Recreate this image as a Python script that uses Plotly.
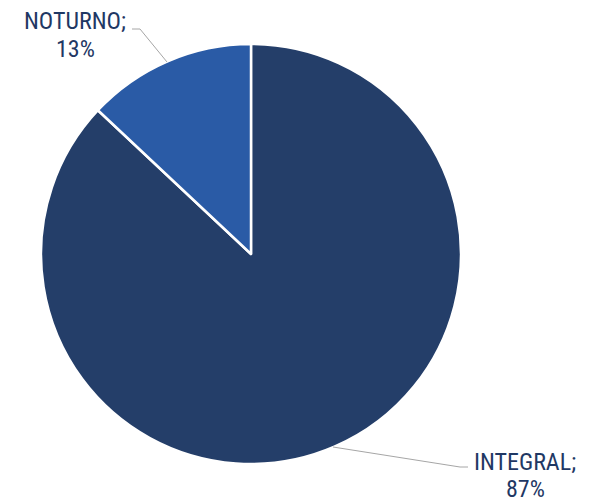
import plotly.graph_objects as go

labels = ["INTEGRAL", "NOTURNO"]
values = [87, 13]
colors = ["#243e69", "#2a5ba6"]

W, H = 603, 498
OFF = 8  # page body margin

def px(x):
    return (x - OFF) / W

def py(y):
    return 1 - (y - OFF) / H

fig = go.Figure(go.Pie(
    labels=labels, values=values, sort=False, direction="clockwise", rotation=0,
    marker=dict(colors=colors, line=dict(color="white", width=2.5)),
    textinfo="none", hoverinfo="label+percent",
    domain=dict(x=[px(41), px(461)], y=[py(464), py(44)]),
))

font = dict(family="Roboto Condensed, Liberation Sans Narrow, Roboto, sans-serif", size=24, color="#1f3864")
total = sum(values)
label_pos = {"NOTURNO": (75, 21, 49), "INTEGRAL": (525, 462, 489)}
for lab, val in zip(labels, values):
    x, y1, y2 = label_pos[lab]
    fig.add_annotation(x=px(x), y=py(y1), xref="paper", yref="paper",
                       text=f"{lab};", showarrow=False, height=22, valign="middle",
                       font=font, xanchor="center", yanchor="middle")
    fig.add_annotation(x=px(x), y=py(y2), xref="paper", yref="paper",
                       text=f"{round(val / total * 100)}%", showarrow=False,
                       height=22, valign="middle",
                       font=font, xanchor="center", yanchor="middle")

line = dict(color="#a6a6a6", width=1)
fig.add_shape(type="path", xref="paper", yref="paper",
              path=f"M {px(132)},{py(29)} L {px(140)},{py(29)} L {px(167)},{py(62)}", line=line)
fig.add_shape(type="path", xref="paper", yref="paper",
              path=f"M {px(333)},{py(447)} L {px(460)},{py(467)} L {px(468)},{py(467)}", line=line)

fig.update_layout(width=W, height=H, margin=dict(l=0, r=0, t=0, b=0),
                  showlegend=False, paper_bgcolor="white", plot_bgcolor="white")
fig.write_html("out.html")
